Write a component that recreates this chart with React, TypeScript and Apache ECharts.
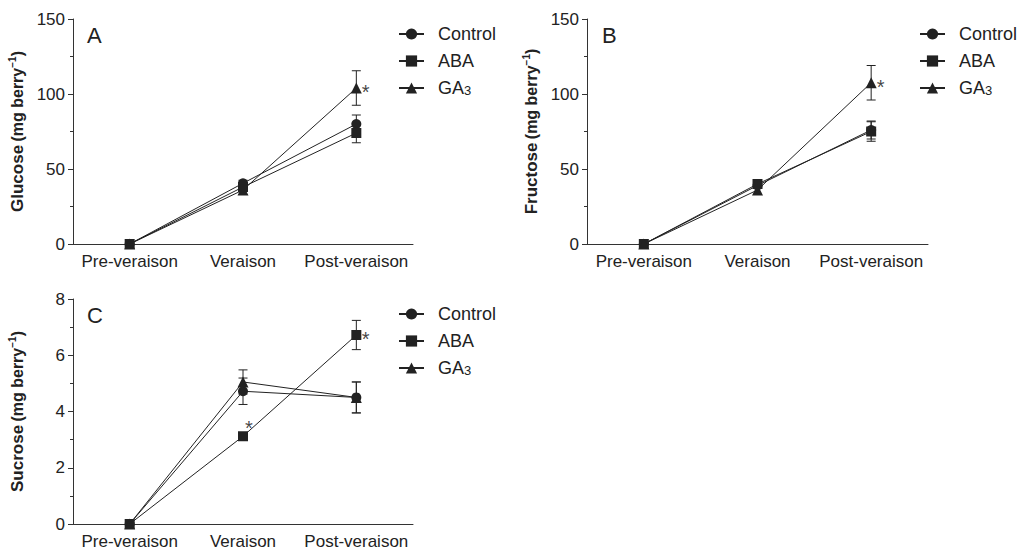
import React, { useEffect, useRef } from "react";
import * as echarts from "echarts";

const categories = ["Pre-veraison", "Veraison", "Post-veraison"];
const seriesNames = ["Control", "ABA", "GA3"];
const symbols = ["circle", "rect", "triangle"];

// Glucose (mg berry-1)
const glucoseControl = [0, 40.5, 80];
const glucoseABA = [0, 38, 74];
const glucoseGA3 = [0, 36, 104];
const glucoseControlErr = [0, 2, 6];
const glucoseABAErr = [0, 2, 6.5];
const glucoseGA3Err = [0, 3, 11.5];

// Fructose (mg berry-1)
const fructoseControl = [0, 39, 76];
const fructoseABA = [0, 40, 75];
const fructoseGA3 = [0, 36, 107.5];
const fructoseControlErr = [0, 2, 6];
const fructoseABAErr = [0, 2, 6.5];
const fructoseGA3Err = [0, 3, 11.5];

// Sucrose (mg berry-1)
const sucroseControl = [0, 4.72, 4.5];
const sucroseABA = [0, 3.12, 6.72];
const sucroseGA3 = [0, 5.05, 4.5];
const sucroseControlErr = [0, 0.47, 0.55];
const sucroseABAErr = [0, 0.08, 0.52];
const sucroseGA3Err = [0, 0.43, 0.55];

// significance marks: [category index, value, placement]
const glucoseStars = [[2, 104, "right"]];
const fructoseStars = [[2, 107.5, "right"]];
const sucroseStars = [
  [1, 3.12, "topright"],
  [2, 6.72, "right"],
];

const yMax = [150, 150, 8];
const yInterval = [50, 50, 2];
const yTitles = ["Glucose", "Fructose", "Sucrose"];
const panelLetters = ["A", "B", "C"];

const FONT = "Liberation Sans, Arial, Helvetica, sans-serif";
const INK = "#222";

export default function App() {
  const ref = useRef<HTMLDivElement>(null);

  useEffect(() => {
    if (!ref.current) return;
    const chart = echarts.init(ref.current, null, { renderer: "svg" });

    const grids = [
      { left: 73, top: 19, width: 340, height: 225 },
      { left: 587, top: 19, width: 341, height: 225 },
      { left: 73, top: 299, width: 340, height: 225 },
    ];

    const panels = [
      {
        vals: [glucoseControl, glucoseABA, glucoseGA3],
        errs: [glucoseControlErr, glucoseABAErr, glucoseGA3Err],
        stars: glucoseStars,
      },
      {
        vals: [fructoseControl, fructoseABA, fructoseGA3],
        errs: [fructoseControlErr, fructoseABAErr, fructoseGA3Err],
        stars: fructoseStars,
      },
      {
        vals: [sucroseControl, sucroseABA, sucroseGA3],
        errs: [sucroseControlErr, sucroseABAErr, sucroseGA3Err],
        stars: sucroseStars,
      },
    ];

    const xAxes = grids.map((_, i) => ({
      type: "category",
      gridIndex: i,
      data: categories,
      boundaryGap: true,
      axisLine: { lineStyle: { color: "#333", width: 1 } },
      axisTick: { alignWithLabel: true, length: 5, lineStyle: { color: "#333" } },
      axisLabel: { interval: 0, hideOverlap: false, fontSize: 17, color: INK, fontFamily: FONT, margin: 9 },
      splitLine: { show: false },
    }));

    const yAxes = grids.map((_, i) => ({
      type: "value",
      gridIndex: i,
      min: 0,
      max: yMax[i],
      interval: yInterval[i],
      axisLine: { show: true, lineStyle: { color: "#333", width: 1 } },
      axisTick: { show: true, length: 5, lineStyle: { color: "#333" } },
      minorTick: { show: true, splitNumber: 2, length: 3, lineStyle: { color: "#333" } },
      axisLabel: { fontSize: 17, color: INK, fontFamily: FONT, margin: 8 },
      splitLine: { show: false },
      name: `{b|${yTitles[i]}} {m|(mg berry}{sup|−1}{m|)}`,
      nameLocation: "middle",
      nameGap: 46,
      nameTextStyle: {
        color: INK,
        fontFamily: FONT,
        rich: {
          b: { fontSize: 17, fontWeight: "bold", fontFamily: FONT, color: INK, lineHeight: 20 },
          m: { fontSize: 16, fontWeight: "bold", fontFamily: FONT, color: INK, lineHeight: 20 },
          sup: { fontSize: 10, fontWeight: "bold", fontFamily: FONT, color: INK, verticalAlign: "top", lineHeight: 20 },
        },
      },
    }));

    const series: any[] = [];
    panels.forEach((p, gi) => {
      const errData: any[] = [];
      p.vals.forEach((arr, si) => {
        arr.forEach((v, ci) => {
          const e = p.errs[si][ci];
          if (e > 0) errData.push([ci, v - e, v + e]);
        });
      });
      series.push({
        type: "custom",
        xAxisIndex: gi,
        yAxisIndex: gi,
        z: 1,
        silent: true,
        data: errData,
        renderItem: (params: any, api: any) => {
          const x = api.value(0);
          const lo = api.coord([x, api.value(1)]);
          const hi = api.coord([x, api.value(2)]);
          const cap = 4.5;
          const style = { stroke: INK, lineWidth: 1 };
          return {
            type: "group",
            children: [
              { type: "line", shape: { x1: lo[0], y1: lo[1], x2: hi[0], y2: hi[1] }, style },
              { type: "line", shape: { x1: lo[0] - cap, y1: lo[1], x2: lo[0] + cap, y2: lo[1] }, style },
              { type: "line", shape: { x1: hi[0] - cap, y1: hi[1], x2: hi[0] + cap, y2: hi[1] }, style },
            ],
          };
        },
      });
      p.vals.forEach((arr, si) => {
        series.push({
          type: "line",
          name: seriesNames[si],
          xAxisIndex: gi,
          yAxisIndex: gi,
          data: arr,
          z: 3,
          symbol: symbols[si],
          symbolSize: si === 2 ? 11 : 10,
          showSymbol: true,
          lineStyle: { color: INK, width: 1 },
          itemStyle: { color: INK },
          emphasis: { disabled: true },
        });
      });
      series.push({
        type: "scatter",
        xAxisIndex: gi,
        yAxisIndex: gi,
        z: 4,
        symbolSize: 1,
        itemStyle: { color: "rgba(0,0,0,0)" },
        silent: true,
        data: p.stars.map((s) => ({
          value: [s[0], s[1]],
          label: {
            show: true,
            formatter: "*",
            fontSize: 20,
            color: "#111",
            fontFamily: FONT,
            position: s[2] === "right" ? "right" : "top",
            distance: s[2] === "right" ? 5 : 4,
            offset: s[2] === "right" ? [0, 4] : [6, 6],
          },
        })),
      });
    });

    const legendBase = (left: number, top: number) => ({
      left,
      top,
      padding: 0,
      orient: "vertical",
      data: seriesNames,
      selectedMode: false,
      itemWidth: 25,
      itemHeight: 14,
      itemGap: 9,
      formatter: (name: string) => (name === "GA3" ? "{n|GA}{sub|3}" : `{n|${name}}`),
      textStyle: {
        color: INK,
        fontFamily: FONT,
        fontSize: 18,
        padding: [0, 0, 0, 9],
        overflow: "none",
        rich: {
          n: { fontSize: 18, fontFamily: FONT, color: INK, lineHeight: 18 },
          sub: { fontSize: 13, fontFamily: FONT, color: INK, verticalAlign: "bottom", lineHeight: 6 },
        },
      },
    });

    const option: any = {
      animation: false,
      backgroundColor: "#fff",
      grid: grids,
      xAxis: xAxes,
      yAxis: yAxes,
      legend: [legendBase(398, 25), legendBase(919, 25), legendBase(398, 305)],
      series,
      graphic: [
        { type: "text", left: 87, top: 24, style: { text: panelLetters[0], fontSize: 22, fill: INK, fontFamily: FONT } },
        { type: "text", left: 602, top: 24, style: { text: panelLetters[1], fontSize: 22, fill: INK, fontFamily: FONT } },
        { type: "text", left: 87, top: 304, style: { text: panelLetters[2], fontSize: 22, fill: INK, fontFamily: FONT } },
      ],
    };

    chart.setOption(option);
    return () => chart.dispose();
  }, []);

  return (
    <div
      ref={ref}
      style={{ position: "fixed", left: 0, top: 0, width: 1018, height: 550, background: "#fff" }}
    />
  );
}
